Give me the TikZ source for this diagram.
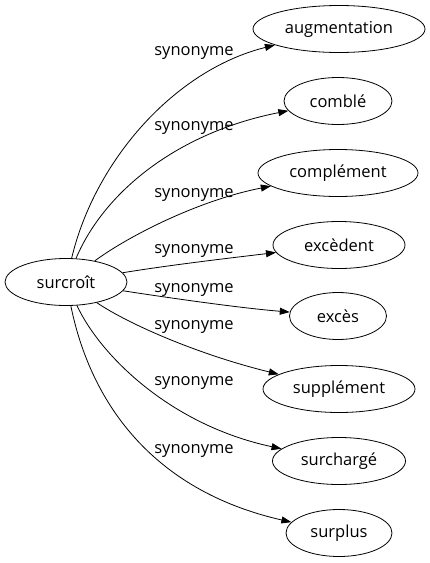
\documentclass[tikz,border=0pt]{standalone}
\usepackage{fontspec}
\setmainfont{Open Sans}
\usetikzlibrary{shapes.geometric,arrows.meta}
\begin{document}
\begin{tikzpicture}[x=1pt,y=-1pt,
  wnode/.style={draw,ellipse,inner sep=0pt,line width=0.8pt,font=\fontsize{16.5}{18}\selectfont,minimum height=47pt},
  syn/.style={font=\fontsize{16.5}{18}\selectfont,inner sep=0pt},
  link/.style={draw,line width=0.8pt,-{Triangle[length=10pt,width=7pt]}}]
\useasboundingbox (0,0) rectangle (429,563);
\node[wnode,minimum width=122pt] (s) at (66,282) {surcroît};
\node[wnode,minimum width=172pt] (a1) at (339,29) {augmentation};
\node[wnode,minimum width=108pt] (a2) at (338,101) {comblé};
\node[wnode,minimum width=160pt] (a3) at (338,173) {complément};
\node[wnode,minimum width=132pt] (a4) at (339,245) {excèdent};
\node[wnode,minimum width=97pt] (a5) at (338,316) {excès};
\node[wnode,minimum width=152pt] (a6) at (339,389) {supplément};
\node[wnode,minimum width=133pt] (a7) at (339,461) {surchargé};
\node[wnode,minimum width=106pt] (a8) at (339,533) {surplus};
\draw[link] (s) .. controls (95,160) and (175,70) .. (a1);
\draw[link] (s) .. controls (105,190) and (180,132) .. (a2);
\draw[link] (s) .. controls (130,235) and (200,200) .. (a3);
\draw[link] (s) .. controls (170,265) and (230,258) .. (a4);
\draw[link] (s) .. controls (170,298) and (240,308) .. (a5);
\draw[link] (s) .. controls (130,325) and (200,355) .. (a6);
\draw[link] (s) .. controls (100,355) and (170,425) .. (a7);
\draw[link] (s) .. controls (90,400) and (150,490) .. (a8);
\node[syn] (l1) at (194,53) {synonyme};
\node[syn] (l2) at (194,128) {synonyme};
\node[syn] (l3) at (194,195) {synonyme};
\node[syn] (l4) at (194,251) {synonyme};
\node[syn] (l5) at (194,290) {synonyme};
\node[syn] (l6) at (194,327) {synonyme};
\node[syn] (l7) at (194,383) {synonyme};
\node[syn] (l8) at (194,451) {synonyme};
\end{tikzpicture}
\end{document}
